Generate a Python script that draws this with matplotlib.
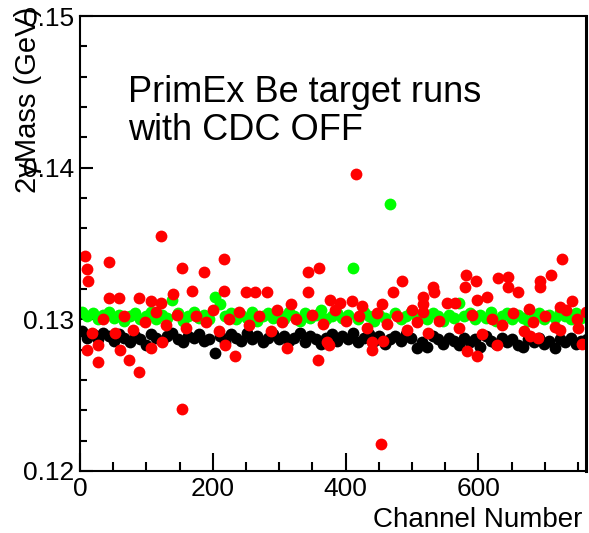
import numpy as np
import matplotlib
matplotlib.use("Agg")
import matplotlib.pyplot as plt
from matplotlib.ticker import MultipleLocator

plt.rcParams['font.family'] = ['Liberation Sans', 'DejaVu Sans']

# channel grid shared by the black and green sets
chan = np.arange(3, 764, 8)

mass_black = [
    0.1292, 0.1288, 0.1290, 0.1287, 0.1291, 0.1289, 0.1286, 0.1290, 0.1288, 0.1285, 0.1289, 0.1287,
    0.1283, 0.1290, 0.1288, 0.1286, 0.1289, 0.1291, 0.1287, 0.1285, 0.1289, 0.1288, 0.1290, 0.1286,
    0.1287, 0.1278, 0.1289, 0.1285, 0.1290, 0.1288, 0.1286, 0.1291, 0.1287, 0.1289, 0.1285, 0.1288,
    0.1290, 0.1287, 0.1289, 0.1286, 0.1288, 0.1291, 0.1285, 0.1289, 0.1287, 0.1284, 0.1288, 0.1290,
    0.1286, 0.1289, 0.1287, 0.1291, 0.1285, 0.1288, 0.1290, 0.1286, 0.1289, 0.1284, 0.1287, 0.1289,
    0.1286, 0.1290, 0.1288, 0.1281, 0.1285, 0.1282, 0.1289, 0.1287, 0.1284, 0.1288, 0.1286, 0.1283,
    0.1288, 0.1285, 0.1287, 0.1282, 0.1289, 0.1286, 0.1284, 0.1288, 0.1285, 0.1287, 0.1283, 0.1282,
    0.1287, 0.1285, 0.1288, 0.1284, 0.1286, 0.1281, 0.1287, 0.1285, 0.1288, 0.1284, 0.1286, 0.1287,
]

mass_green = [
    0.1305, 0.1302, 0.1304, 0.1300, 0.1303, 0.1305, 0.1301, 0.1303, 0.1299, 0.1302, 0.1304, 0.1300,
    0.1302, 0.1305, 0.1300, 0.1303, 0.1301, 0.1313, 0.1304, 0.1299, 0.1302, 0.1305, 0.1301, 0.1303,
    0.1300, 0.1315, 0.1310, 0.1302, 0.1304, 0.1300, 0.1303, 0.1301, 0.1305, 0.1299, 0.1302, 0.1304,
    0.1301, 0.1303, 0.1300, 0.1305, 0.1302, 0.1299, 0.1304, 0.1301, 0.1303, 0.1306, 0.1300, 0.1302,
    0.1304, 0.1301, 0.1303, 0.1334, 0.1300, 0.1305, 0.1302, 0.1299, 0.1303, 0.1301, 0.1376, 0.1304,
    0.1300, 0.1302, 0.1305, 0.1301, 0.1303, 0.1300, 0.1304, 0.1302, 0.1299, 0.1303, 0.1301, 0.1311,
    0.1302, 0.1304, 0.1300, 0.1303, 0.1301, 0.1305, 0.1299, 0.1302, 0.1304, 0.1300, 0.1303, 0.1301,
    0.1299, 0.1302, 0.1304, 0.1300, 0.1303, 0.1301, 0.1305, 0.1302, 0.1300, 0.1304, 0.1301, 0.1303,
]

chan_red = [
    8, 10, 12, 10, 18, 27, 27, 35, 43, 44, 52, 59, 60, 66, 74, 80, 89, 89, 98, 107,
    107, 114, 122, 122, 123, 130, 140, 146, 153, 154, 160, 169, 175, 187, 190, 200, 210, 217, 217, 218,
    225, 233, 240, 250, 255, 264, 270, 281, 288, 296, 304, 312, 318, 326, 343, 343, 350, 358, 360, 366,
    372, 376, 375, 384, 392, 400, 409, 416, 420, 425, 432, 440, 440, 448, 453, 455, 456, 462, 471, 478,
    485, 492, 500, 508, 517, 517, 517, 524, 532, 533, 540, 552, 565, 570, 580, 581, 583, 590, 596, 598,
    598, 606, 613, 620, 628, 629, 636, 645, 645, 652, 660, 668, 676, 678, 682, 690, 692, 693, 700, 709,
    715, 723, 723, 726, 732, 741, 748, 750, 756, 762,
]
mass_red = [
    0.1342, 0.1333, 0.1325, 0.1280, 0.1291, 0.1272, 0.1283, 0.1300, 0.1314, 0.1338,
    0.1291, 0.1314, 0.1280, 0.1302, 0.1273, 0.1293, 0.1314, 0.1265, 0.1298, 0.1312,
    0.1281, 0.1305, 0.1355, 0.1311, 0.1285, 0.1296, 0.1317, 0.1303, 0.1334, 0.1241,
    0.1294, 0.1319, 0.1302, 0.1331, 0.1298, 0.1306, 0.1292, 0.1340, 0.1319, 0.1283,
    0.1300, 0.1276, 0.1305, 0.1318, 0.1296, 0.1318, 0.1302, 0.1318, 0.1292, 0.1306,
    0.1298, 0.1281, 0.1310, 0.1300, 0.1331, 0.1318, 0.1303, 0.1273, 0.1334, 0.1297,
    0.1285, 0.1313, 0.1283, 0.1306, 0.1311, 0.1299, 0.1312, 0.1396, 0.1302, 0.1309,
    0.1294, 0.1285, 0.1280, 0.1304, 0.1218, 0.1310, 0.1286, 0.1297, 0.1318, 0.1302,
    0.1325, 0.1293, 0.1306, 0.1298, 0.1315, 0.1310, 0.1305, 0.1291, 0.1321, 0.1318,
    0.1299, 0.1311, 0.1311, 0.1294, 0.1321, 0.1329, 0.1279, 0.1303, 0.1325, 0.1313,
    0.1276, 0.1290, 0.1315, 0.1300, 0.1283, 0.1327, 0.1296, 0.1328, 0.1321, 0.1304,
    0.1318, 0.1292, 0.1307, 0.1289, 0.1298, 0.1288, 0.1325, 0.1321, 0.1302, 0.1329,
    0.1295, 0.1293, 0.1308, 0.1340, 0.1306, 0.1312, 0.1300, 0.1294, 0.1284, 0.1305,
]

fig = plt.figure(figsize=(5.89, 5.33), dpi=100)
ax = fig.add_axes([80 / 589, 1 - 471 / 533, 506 / 589, 455 / 533])

ms = 8.5
ax.plot(chan, mass_black, 'o', color='black', ms=ms, mew=0)
ax.plot(chan, mass_green, 'o', color='#00ff00', ms=ms, mew=0)
ax.plot(chan_red, mass_red, 'o', color='#ff0000', ms=ms, mew=0)

ax.set_xlim(0, 762)
ax.set_ylim(0.12, 0.15)

ax.xaxis.set_major_locator(MultipleLocator(200))
ax.xaxis.set_minor_locator(MultipleLocator(50))
ax.yaxis.set_major_locator(MultipleLocator(0.01))
ax.yaxis.set_minor_locator(MultipleLocator(0.002))
ax.set_yticks([0.12, 0.13, 0.14, 0.15])
ax.set_yticklabels(["0.12", "0.13", "0.14", "0.15"])

ax.tick_params(axis='x', which='major', direction='in', length=13, width=1.5, labelsize=19, pad=4)
ax.tick_params(axis='x', which='minor', direction='in', length=6.5, width=1.5)
ax.tick_params(axis='y', which='major', direction='in', length=9.5, width=1.5, labelsize=19, pad=4)
ax.tick_params(axis='y', which='minor', direction='in', length=5, width=1.5)

for side in ax.spines.values():
    side.set_linewidth(1.5)
ax.spines['right'].set_linewidth(2.2)

ax.set_xlabel("Channel Number", fontsize=20, loc='right')
ax.xaxis.set_label_coords(0.992, -0.08)
ax.set_ylabel("2γMass (GeV)", fontsize=21, loc='bottom')
ax.yaxis.set_label_coords(-0.075, 0.611)

ax.text(0.095, 0.87, "PrimEx Be target runs\nwith CDC OFF", transform=ax.transAxes,
        fontsize=26, va='top', ha='left', linespacing=1.12)

fig.savefig("out.png", dpi=100)
